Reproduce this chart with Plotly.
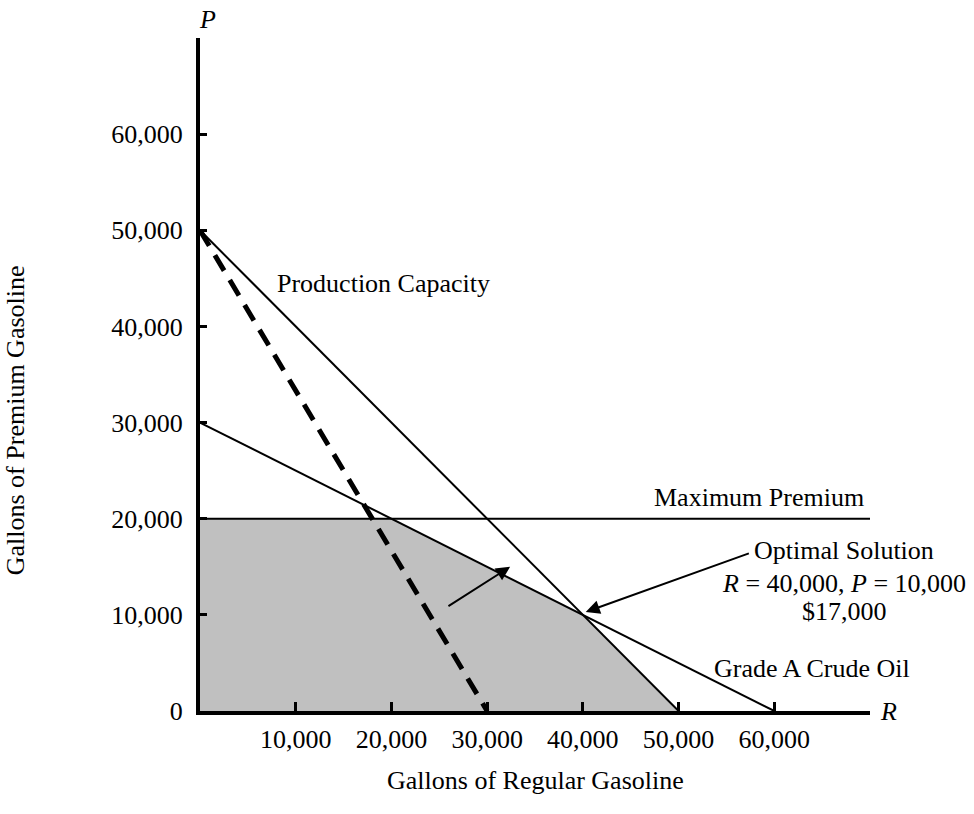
import plotly.graph_objects as go

# gallons of regular (R) and premium (P)
prod_cap_R = [0, 50000]
prod_cap_P = [50000, 0]
crude_R = [0, 60000]
crude_P = [30000, 0]
max_prem_R = [0, 70000]
max_prem_P = [20000, 20000]
profit_R = [0, 30000]
profit_P = [50000, 0]
feasible_R = [0, 0, 20000, 40000, 50000, 0]
feasible_P = [0, 20000, 20000, 10000, 0, 0]
x_ticks = [10000, 20000, 30000, 40000, 50000, 60000]
y_ticks = [0, 10000, 20000, 30000, 40000, 50000, 60000]

FONT = "Liberation Serif"
fig = go.Figure()

fig.add_trace(go.Scatter(x=feasible_R, y=feasible_P, fill="toself", fillcolor="#c0c0c0",
                         line=dict(width=0), mode="lines", hoverinfo="skip"))
for xs, ys in [(prod_cap_R, prod_cap_P), (crude_R, crude_P), (max_prem_R, max_prem_P)]:
    fig.add_trace(go.Scatter(x=xs, y=ys, mode="lines", line=dict(color="black", width=2)))
fig.add_trace(go.Scatter(x=profit_R, y=profit_P, mode="lines",
                         line=dict(color="black", width=5, dash="18px,11px")))

fig.update_layout(
    width=974, height=814, showlegend=False,
    plot_bgcolor="white", paper_bgcolor="white",
    margin=dict(l=200, r=104, t=38, b=103, autoexpand=False),
    font=dict(family=FONT, size=26, color="black"),
)
fig.update_xaxes(range=[0, 70000], showgrid=False, zeroline=False, showline=True,
                 linewidth=4, linecolor="black", tickvals=x_ticks, tickformat=",",
                 ticks="inside", ticklen=9, tickwidth=3, tickcolor="black",
                 ticklabelstandoff=2, automargin=False)
fig.update_yaxes(range=[0, 70000], showgrid=False, zeroline=False, showline=True,
                 linewidth=4, linecolor="black", tickvals=y_ticks, tickformat=",",
                 ticks="inside", ticklen=7, tickwidth=3, tickcolor="black",
                 ticklabelstandoff=8, automargin=False)

ann = [
    dict(text="Production Capacity", x=7800, y=44500, xanchor="left"),
    dict(text="Maximum Premium", x=47200, y=22200, xanchor="left"),
    dict(text="Grade A Crude Oil", x=53500, y=4400, xanchor="left"),
    dict(text="Optimal Solution", x=67300, y=16650),
    dict(text="<i>R</i> = 40,000, <i>P</i> = 10,000", x=67300, y=13250),
    dict(text="$17,000", x=67300, y=10300),
]
for a in ann:
    fig.add_annotation(showarrow=False, xref="x", yref="y", **a)

# arrows
fig.add_annotation(x=40300, y=10300, ax=57500, ay=16450, xref="x", yref="y",
                   axref="x", ayref="y", text="", showarrow=True,
                   arrowhead=2, arrowsize=1.4, arrowwidth=2, arrowcolor="black")
fig.add_annotation(x=32400, y=15000, ax=25800, ay=10800, xref="x", yref="y",
                   axref="x", ayref="y", text="", showarrow=True,
                   arrowhead=2, arrowsize=1.4, arrowwidth=2, arrowcolor="black")

# axis letters and titles
fig.add_annotation(text="<i>P</i>", xref="x", x=0, yref="paper", y=1, yanchor="bottom",
                   yshift=2, xshift=7, showarrow=False, font=dict(size=26))
fig.add_annotation(text="<i>R</i>", xref="paper", x=1, yref="y", y=0, xanchor="left",
                   xshift=8, showarrow=False, font=dict(size=26))
fig.add_annotation(text="Gallons of Regular Gasoline", xref="paper", x=0.5, yref="paper",
                   y=0, yshift=-86, showarrow=False)
fig.add_annotation(text="Gallons of Premium Gasoline", xref="paper", x=0, xshift=-185,
                   xanchor="center", yref="paper", y=0.432, textangle=-90, showarrow=False)

# drop the browser's default body margin so the figure sits at the page corner
fig.write_html("out.html", config={"displayModeBar": False},
               post_script="document.body.style.margin = '0';")
